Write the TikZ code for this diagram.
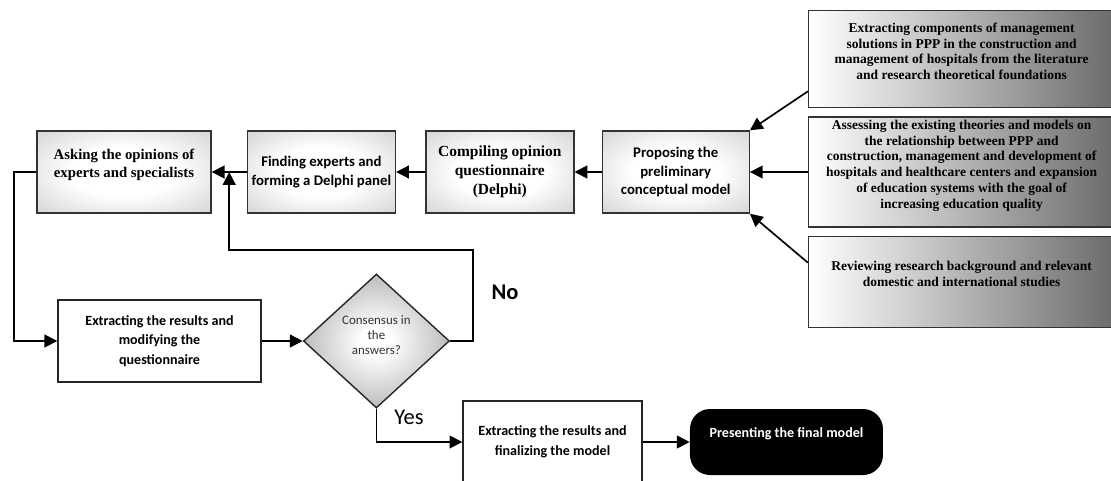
\documentclass[tikz,border=0pt]{standalone}
\usepackage{fontspec}
\setmainfont{Liberation Serif}
\newfontfamily\calibri{Carlito}
\usetikzlibrary{arrows.meta, positioning, calc, shapes.geometric}
\pgfdeclareradialshading{boxglow}{\pgfpoint{0bp}{0bp}}{color(0bp)=(white); color(15bp)=(white); color(50bp)=(black!28); color(72bp)=(black!40)}
\pgfdeclareradialshading{diamondglow}{\pgfpoint{0bp}{0bp}}{color(0bp)=(white); color(5bp)=(white); color(28bp)=(black!30); color(50bp)=(black!42)}

\begin{document}
\begin{tikzpicture}[
    gbox/.style={draw=black!80, line width=1pt, minimum width=37mm, minimum height=20.5mm, align=center, inner sep=1pt,
        shading=boxglow},
    srcbox/.style={draw=black!80, line width=1pt, minimum width=76.5mm, align=center, inner sep=1pt,
        left color=white, right color=black!58, font=\fontsize{9.6}{11.2}\selectfont\bfseries},
    plainbox/.style={draw=black!85, line width=1pt, fill=white, minimum height=20.5mm, align=center,
        font=\calibri\fontsize{10}{14}\selectfont\bfseries},
    serif/.style={font=\fontsize{10.5}{12.8}\selectfont\bfseries},
    sans/.style={font=\calibri\fontsize{10.5}{13.2}\selectfont\bfseries},
    decision/.style={diamond, draw=black!85, line width=1pt, minimum width=36.5mm, minimum height=33.5mm, inner sep=0pt,
        shading=diamondglow, align=center, text=black!80, font=\calibri\fontsize{9.2}{10.7}\selectfont},
    endbox/.style={fill=black, rounded corners=5mm, minimum width=48.25mm, minimum height=16.5mm, align=center,
        text=white, font=\calibri\fontsize{10}{13}\selectfont\bfseries},
    flow/.style={-{Triangle[length=3.2mm,width=3.2mm]}, line width=1.2pt},
    answer/.style={font=\calibri\fontsize{16}{18}\selectfont},
    node distance=2mm
]
    \useasboundingbox (0,0) rectangle (277.75mm,-120mm);

    % Delphi row
    \node[gbox, serif, minimum width=43.5mm] (ask) at (31mm,-43mm) {Asking the opinions of\\experts and specialists\\\mbox{}};
    \node[gbox, sans, right=8.75mm of ask] (find) {Finding experts and\\forming a Delphi panel};
    \node[gbox, serif, right=7.25mm of find, font=\fontsize{11}{13.5}\selectfont\bfseries] (compile) {Compiling opinion\\questionnaire\\(Delphi)};
    \node[gbox, sans, right=6.75mm of compile, minimum width=36.75mm] (propose) {Proposing the\\preliminary\\conceptual model};

    % Sources
    \node[srcbox, minimum height=27.5mm, right=14.5mm of propose] (src2) {Assessing the existing theories and models on\\the relationship between PPP and\\construction, management and development of\\hospitals and healthcare centers and expansion\\of education systems with the goal of\\increasing education quality\\\mbox{}};
    \node[srcbox, minimum height=24.25mm, above=of src2] (src1) {Extracting components of management\\solutions in PPP in the construction and\\management of hospitals from the literature\\and research theoretical foundations\\\mbox{}};
    \node[srcbox, minimum height=22.75mm, below=of src2] (src3) {Reviewing research background and relevant\\domestic and international studies\\\mbox{}};

    % Arrows
    \draw[flow] ($(src1.south west)+(0,4.25mm)$) -- (propose.north east);
    \draw[flow] (src2.west) -- (src2.west -| propose.east);
    \draw[flow] ($(src3.north west)+(0,-6.75mm)$) -- (propose.south east);
    \draw[flow] (propose) -- (compile);
    \draw[flow] (compile) -- (find);
    \draw[flow] (find) -- (ask);
    \coordinate (join) at ($(ask.east)!0.5!(find.west)$);

    % Review loop
    \node[plainbox, minimum width=50.75mm] (modify) at (39.875mm,-85.25mm) {Extracting the results and\\modifying the\\questionnaire};
    \node[decision, right=10.25mm of modify] (check) {Consensus in\\the\\answers?\\[-1mm]\mbox{}};
    \node[plainbox, minimum width=44.75mm] (finalize) at (138.125mm,-110.5mm) {Extracting the results and\\finalizing the model};
    \node[endbox, right=11.75mm of finalize] (present) {Presenting the final model\\\mbox{}};

    \draw[flow] (ask.west) -- ++(-5.5mm,0) |- (modify.west);
    \draw[flow] (modify) -- (check);
    \draw[flow] (check.east) -- ++(5.75mm,0) |- ($(join)+(0,-19.5mm)$) -- (join);
    \draw[flow] (check.south) |- (finalize.west);
    \draw[flow] (finalize) -- (present);

    % Answers
    \node[answer, font=\calibri\fontsize{16}{18}\selectfont\bfseries] (no) at (126.25mm,-73mm) {No};
    \node[answer] (yes) at (102.25mm,-104.25mm) {Yes};
\end{tikzpicture}
\end{document}
